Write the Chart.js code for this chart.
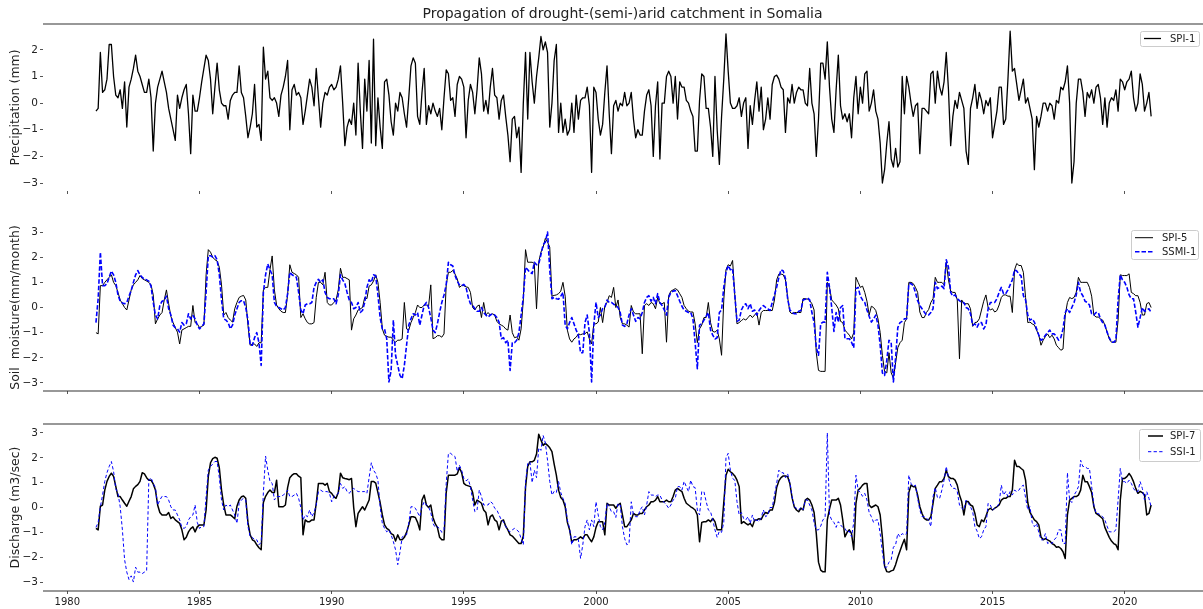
<!DOCTYPE html>
<html><head><meta charset="utf-8">
<script src="https://cdn.jsdelivr.net/npm/chart.js@4.4.0/dist/chart.umd.min.js"></script>
<style>
html,body{margin:0;padding:0;background:#fff;overflow:hidden;width:1203px;height:609px;}
canvas{position:absolute;left:0;}
</style></head><body>
<canvas id="c1" width="1204" height="200" style="top:0px"></canvas>
<canvas id="c2" width="1204" height="200" style="top:200px"></canvas>
<canvas id="c3" width="1204" height="209" style="top:400px"></canvas>
<script>
const chartTitle = 'Propagation of drought-(semi-)arid catchment in Somalia';
const startYear = 1981;            // monthly series, first value Feb 1981
const xTickYears = [1980, 1985, 1990, 1995, 2000, 2005, 2010, 2015, 2020];
const precipTicks = [-3, -2, -1, 0, 1, 2];
const soilTicks = [-3, -2, -1, 0, 1, 2, 3];
const dischargeTicks = [-3, -2, -1, 0, 1, 2, 3];
const yTitles = ['Precipitation (mm)', 'Soil  moisture(mm/month)', 'Discharge (m3/sec)'];
const seriesNames = ['SPI-1', 'SPI-5', 'SSMI-1', 'SPI-7', 'SSI-1'];

const spi1 = [
-0.3,-0.2,1.9,0.4,0.5,0.9,2.2,2.2,1.0,0.3,0.2,
0.5,-0.2,0.8,-0.9,0.6,0.9,1.3,1.8,1.2,1.0,0.7,0.4,
0.4,0.9,0.2,-1.8,0.0,0.6,0.9,1.2,0.8,0.4,-0.2,-0.6,
-1.0,-1.4,0.3,-0.2,0.2,0.5,0.7,-0.4,-1.9,0.3,-0.3,-0.3,
0.2,0.8,1.3,1.8,1.6,0.9,-0.4,0.6,1.5,0.5,0.0,-0.1,
-0.1,-0.6,0.1,0.3,0.4,0.4,1.4,0.4,0.2,-0.5,-1.3,-0.9,
-0.4,0.7,-0.9,-0.8,-1.4,2.1,0.9,1.2,0.2,0.1,0.2,0.0,
-0.5,0.3,0.6,1.0,1.6,-1.0,0.5,0.7,0.3,0.4,0.2,-0.8,
-0.3,0.3,0.9,0.6,-0.1,1.3,0.2,-0.9,0.0,0.4,0.3,0.6,
0.7,0.5,0.6,0.9,1.4,0.0,-1.6,-0.9,-0.6,-0.8,0.0,-1.2,
1.5,-0.3,-1.7,0.9,-0.3,1.6,-1.5,2.4,-1.6,0.2,-0.9,-1.7,
0.8,0.9,0.3,-0.7,-1.2,0.0,-0.3,0.4,0.2,-0.4,-0.9,0.2,
1.4,1.7,1.5,-0.5,-0.8,0.4,1.3,-0.8,-0.1,-0.4,0.0,-0.3,
-0.5,-0.2,-1.0,0.2,1.25,1.1,0.1,0.2,-0.5,0.7,1.0,0.9,
0.6,-1.3,0.1,0.7,0.4,-0.4,0.5,1.7,1.1,-0.3,0.1,-0.4,
0.6,1.3,0.3,0.2,-0.6,0.1,0.3,-0.5,-1.2,-2.2,-0.6,-0.5,
-1.3,-0.9,-2.6,0.0,1.9,-0.6,1.9,0.8,0.0,1.0,1.7,2.5,
2.0,2.3,1.9,-0.9,0.0,1.6,2.2,-1.1,0.0,-1.1,-0.6,-1.2,
-1.0,0.0,-1.1,0.3,-0.6,0.1,0.2,0.2,0.6,-0.1,-2.6,0.6,
0.4,-0.6,-1.2,-0.8,0.4,1.4,-0.4,-1.9,-0.1,0.1,-0.3,0.0,
-0.1,0.4,-0.1,0.0,0.4,-0.6,-1.3,-1.0,-1.2,-1.2,-0.3,0.3,
0.5,-0.1,-2.0,-0.1,0.8,-2.1,0.0,0.0,1.0,1.2,1.0,0.0,
1.0,-0.6,0.8,0.6,0.6,0.1,0.0,-0.3,-0.5,-1.8,-1.8,0.1,
1.1,1.0,-0.2,-0.2,-0.9,-2.0,1.0,-1.0,-2.3,-0.5,0.9,2.6,
1.2,0.0,-0.2,-0.2,-0.1,0.2,-0.5,0.0,0.2,-1.7,-0.1,-0.8,
0.1,0.8,-0.3,0.6,-1.0,-0.6,0.2,-0.6,0.7,1.0,1.05,0.9,
0.6,0.5,-1.1,0.2,0.0,0.7,0.0,0.4,0.6,0.5,0.5,0.0,
-0.1,1.3,0.0,-0.4,-2.0,-0.6,1.5,1.5,0.9,2.3,0.6,-0.6,
-1.1,0.5,1.8,-0.1,-0.6,-0.4,-0.7,-0.4,-1.3,0.2,1.0,-0.4,
0.6,0.0,1.1,1.2,-0.3,0.0,0.5,-0.3,-0.6,-1.5,-3.0,-2.5,
-1.5,-0.7,-2.1,-2.4,-1.7,-2.4,-2.2,1.0,-0.4,1.0,0.6,0.0,
-0.5,-0.1,0.0,-1.9,-0.2,-0.2,-0.3,-0.4,1.1,1.2,0.0,1.2,
0.6,0.3,0.8,1.9,0.5,-1.6,-0.5,0.1,-0.2,0.4,0.1,-0.2,
-1.8,-2.3,-0.2,0.2,0.7,-0.2,0.4,0.1,-0.4,0.1,-0.1,0.2,
-1.3,-0.8,-0.3,0.6,0.6,-0.8,-0.6,0.9,2.7,1.2,1.3,0.7,
0.1,0.5,0.9,0.0,0.2,-0.2,-0.6,-2.5,-0.5,-0.9,-0.5,0.0,
0.0,-0.3,0.0,-0.1,-0.6,0.1,0.0,0.6,0.5,0.8,1.4,0.0,
-3.0,-2.2,0.0,0.9,0.9,0.4,-0.5,0.4,0.2,0.5,0.0,0.6,
0.7,0.2,-0.8,0.2,-0.9,0.0,0.2,0.1,0.5,-0.3,0.9,0.8,
0.5,0.8,0.9,1.2,0.2,-0.3,0.0,1.1,0.7,-0.3,0.0,0.4,
-0.5];

const spi5 = [
-1.0,-1.05,0.87,0.87,1.0,1.1,1.2,1.3,1.0,0.87,0.6,
0.3,0.15,0.0,-0.1,0.3,0.7,0.9,1.0,1.1,1.27,1.15,1.1,
1.05,1.0,0.9,0.5,-0.65,-0.45,-0.3,-0.2,0.3,0.7,0.15,-0.35,
-0.6,-0.8,-0.98,-1.45,-0.9,-0.85,-0.8,-0.75,-0.75,0.08,-0.6,-0.65,
-0.8,-0.75,-0.7,1.3,2.3,2.2,2.0,1.9,1.85,1.6,0.9,-0.3,
-0.2,-0.4,-0.5,-0.58,-0.05,0.2,0.4,0.45,0.48,0.3,-0.7,-1.5,
-1.45,-1.45,-1.55,-1.4,-1.4,0.7,0.8,0.8,1.5,2.05,0.7,0.1,
-0.05,-0.15,-0.2,-0.2,0.5,1.7,1.4,1.35,1.3,1.2,-0.4,-0.25,
-0.45,-0.6,-0.65,-0.65,-0.6,0.4,1.0,1.0,0.9,1.4,0.2,0.1,
0.1,0.2,0.3,0.7,1.56,1.2,1.2,1.15,1.1,-0.9,-0.45,-0.3,
-0.1,-0.05,0.0,0.4,0.35,0.85,0.9,1.05,1.3,1.0,0.2,-0.85,
-1.1,-1.15,-1.18,-1.18,-1.3,-1.38,-1.3,-1.3,-1.25,0.2,-0.85,-0.9,
-0.6,-0.4,-0.2,0.1,0.0,0.0,0.1,0.1,0.05,0.9,-1.24,-1.2,
-1.12,-1.12,-1.18,-1.05,0.9,1.4,1.4,1.47,1.33,1.14,0.8,0.87,
0.87,0.82,0.8,0.6,0.0,-0.1,0.05,0.1,-0.4,0.2,-0.3,-0.2,
-0.3,-0.25,-0.3,-0.55,-0.65,-0.7,-0.75,-0.85,-0.9,-0.3,-1.0,-1.2,
-1.17,-1.3,-0.85,0.3,2.3,1.8,1.8,1.8,1.75,-0.05,1.8,2.2,
2.4,2.75,2.6,2.4,0.45,0.48,0.5,0.55,0.65,1.0,0.45,-0.9,
-1.25,-1.38,-1.25,-1.18,-1.05,-1.08,-1.05,-1.04,-0.97,-1.25,-1.45,-0.65,
-0.65,-0.58,0.0,-0.6,0.05,0.2,0.47,0.4,0.8,0.0,0.3,-0.4,
-0.65,-0.65,-0.7,-0.78,0.08,-0.18,-0.25,-0.25,-0.25,-1.84,0.08,0.15,
0.08,0.2,0.15,-0.05,0.4,0.15,0.15,0.2,-1.38,0.47,0.65,0.7,
0.75,0.7,0.55,0.4,0.08,-0.05,-0.15,-0.18,-0.18,-0.65,-1.4,-0.85,
-0.7,-0.4,-0.4,0.2,-0.6,-0.95,-0.98,-0.9,-1.25,-1.9,0.3,1.5,
1.7,1.65,1.87,0.5,-0.65,-0.6,-0.52,-0.45,-0.5,-0.4,-0.3,-0.4,
-0.3,-0.2,-0.7,-0.2,-0.12,-0.12,-0.12,-0.12,-0.12,0.3,1.1,1.33,
1.33,1.3,1.1,0.4,-0.18,-0.25,-0.2,-0.2,-0.2,-0.2,0.35,0.35,
0.33,0.28,0.15,-0.1,-1.8,-2.5,-2.54,-2.54,-2.54,1.0,0.8,0.3,
0.2,0.1,-0.05,-0.55,-0.6,-0.9,-1.0,-1.1,-1.25,-1.0,1.2,1.0,
0.8,0.85,0.6,0.25,-0.3,0.05,0.0,-0.12,-0.45,-1.0,-1.9,-2.55,
-2.6,-1.8,-2.6,-2.8,-2.2,-1.6,-1.4,-1.3,-0.6,-0.45,1.0,1.0,
0.95,0.8,0.6,-0.18,-0.4,-0.4,-0.2,-0.08,0.2,0.35,1.2,1.0,
1.0,1.0,0.9,1.8,1.1,0.65,0.6,0.6,0.3,-2.04,0.3,0.15,
0.15,0.15,-0.05,-0.75,-0.6,-0.58,-0.45,-0.1,0.25,0.5,0.0,-0.1,
-0.05,-0.18,-0.12,0.1,0.4,0.5,0.5,0.45,0.45,-0.2,1.5,1.75,
1.67,1.67,1.4,0.4,-0.6,-0.58,-0.65,-0.7,-0.9,-1.1,-1.5,-1.3,
-1.15,-1.05,-1.2,-1.1,-1.25,-1.5,-1.6,-1.7,-1.65,-0.3,0.2,0.4,
0.35,0.4,0.6,1.2,1.0,1.0,1.0,1.0,0.8,0.45,-0.3,-0.38,
-0.38,-0.45,-0.5,-0.7,-0.98,-1.25,-1.38,-1.38,-1.38,-0.5,1.3,1.27,
1.27,1.27,1.34,0.6,0.55,0.47,0.47,0.2,-0.3,-0.3,0.15,0.2,
0.0];

const ssmi1 = [
-0.6,0.35,2.2,0.87,0.87,0.95,1.2,1.45,1.3,1.0,0.5,
0.25,0.18,0.15,0.2,0.45,0.68,1.0,1.3,1.47,1.3,1.2,1.12,
1.1,1.05,0.85,0.2,-0.3,-0.45,0.08,0.25,0.28,0.45,-0.05,-0.3,
-0.7,-0.8,-0.85,-0.98,-0.6,-0.7,-0.65,-0.25,-0.45,-0.32,-0.45,-0.7,
-0.85,-0.75,-0.65,0.6,2.06,2.06,2.0,2.06,1.9,1.3,0.3,-0.45,
-0.5,-0.6,-0.85,-0.7,-0.3,-0.05,0.2,0.27,0.27,0.0,-0.5,-1.5,
-1.5,-1.2,-1.0,-1.4,-2.3,0.6,1.3,1.73,1.5,1.3,0.2,0.05,
0.0,-0.05,-0.1,0.0,0.55,1.4,1.3,1.25,1.2,0.6,-0.1,-0.25,
0.1,0.15,0.15,0.2,0.8,1.0,1.12,1.0,1.1,0.6,0.4,0.35,
0.35,0.35,0.15,0.5,1.3,1.1,0.95,0.6,0.3,0.2,-0.05,0.0,
0.2,-0.2,-0.12,0.2,0.8,1.1,1.0,1.3,1.25,0.5,-0.4,-0.85,
-0.85,-1.25,-2.96,-2.5,-0.5,-1.9,-2.3,-2.7,-2.83,-2.3,-1.5,-0.7,
-0.45,-0.25,-0.3,-0.2,-0.7,-0.3,0.08,0.2,0.0,-0.4,-0.9,-1.0,
-0.65,-0.2,0.2,0.5,0.9,1.8,1.7,1.65,1.27,1.05,0.9,0.87,
0.92,0.8,0.4,0.15,0.08,-0.05,-0.15,-0.15,0.0,-0.2,-0.3,-0.38,
-0.3,-0.25,-0.3,-0.4,-0.58,-1.24,-1.2,-1.4,-1.3,-2.5,-1.4,-1.4,
-1.3,-1.0,-0.3,0.4,1.6,1.5,1.4,1.35,1.8,1.7,1.73,2.1,
2.5,2.6,3.0,1.5,0.35,0.4,0.35,0.33,0.45,0.6,-0.7,-0.85,
-0.6,-0.4,-0.65,-0.9,-1.1,-1.8,-1.8,-0.6,-0.3,-1.0,-2.96,-0.7,
0.2,-0.4,-0.3,-0.05,0.0,0.3,0.2,0.2,0.13,0.08,0.0,-0.2,
-0.7,-0.75,-0.65,-0.3,-0.05,-0.3,-0.55,-0.4,-0.45,-0.2,0.2,0.4,
0.47,0.25,0.4,0.15,0.55,0.2,0.08,-0.1,-0.3,0.4,0.6,0.65,
0.67,0.47,0.25,0.05,-0.1,-0.15,-0.2,-0.2,-0.45,-1.4,-2.43,-0.7,
-0.65,-0.5,-0.35,-0.2,-0.9,-1.1,-1.25,-1.2,-0.2,-0.1,0.8,1.4,
1.67,1.5,1.55,0.5,-0.55,-0.5,-0.1,0.08,0.15,-0.05,0.15,-0.15,
-0.1,-0.3,-0.12,0.0,0.08,0.0,-0.05,-0.12,0.2,0.5,0.8,1.2,
1.5,1.45,1.15,0.35,-0.1,-0.18,-0.25,-0.25,-0.15,-0.12,0.3,0.33,
0.38,0.3,-0.2,-0.6,-1.6,-1.9,-0.65,-0.58,-0.58,1.4,0.8,0.0,
-0.95,-0.2,-0.58,0.0,0.08,-1.24,-1.24,-1.24,-1.38,-1.6,0.75,0.8,
0.45,0.3,0.2,-0.1,-0.35,-0.58,-0.45,-0.3,-0.7,-1.5,-2.6,-2.7,
-2.1,-1.3,-1.4,-2.96,-2.0,-0.8,-0.6,-0.55,-0.45,-0.45,0.95,0.95,
0.87,0.6,0.27,0.08,-0.05,-0.18,-0.3,-0.3,-0.2,-0.05,1.0,0.75,
0.8,0.85,0.75,1.9,1.6,0.6,0.45,0.5,0.35,0.27,0.2,0.2,
0.0,-0.05,-0.25,-0.7,-0.65,-0.78,-0.6,-0.6,-0.85,-0.7,-0.05,0.2,
0.2,0.2,0.35,0.6,0.8,0.55,0.55,0.7,0.9,1.1,1.5,1.45,
1.33,1.25,0.47,0.3,-0.3,-0.5,-0.45,-0.58,-0.85,-1.1,-1.3,-1.25,
-1.1,-1.0,-0.9,-1.05,-1.05,-1.15,-1.3,-1.2,-0.85,-0.2,-0.05,-0.2,
0.0,0.2,0.5,1.0,0.6,0.47,0.25,0.2,0.1,-0.25,-0.3,-0.2,
-0.2,-0.45,-0.6,-0.7,-0.98,-1.2,-1.38,-1.38,-1.3,0.3,1.3,1.1,
1.0,0.8,0.5,0.35,0.35,-0.18,-0.78,-0.4,0.0,-0.15,-0.1,-0.05,
-0.2];

const spi7 = [
-0.84,-0.9,0.05,0.1,0.7,1.05,1.25,1.38,1.25,0.85,0.44,
0.44,0.3,0.17,0.05,0.25,0.44,0.75,0.85,0.92,1.05,1.4,1.35,
1.2,1.1,1.1,0.95,0.7,0.1,-0.2,-0.3,-0.3,-0.3,-0.2,-0.44,
-0.38,-0.5,-0.57,-0.64,-0.9,-1.3,-1.2,-0.98,-0.85,-0.78,-0.98,-0.78,
-0.7,-0.7,-0.7,-0.1,1.25,1.8,1.97,2.02,1.98,1.6,0.7,0.1,
-0.3,-0.3,-0.3,-0.37,-0.45,0.05,0.3,0.43,0.46,0.37,-0.6,-1.1,
-1.3,-1.35,-1.5,-1.62,-1.7,0.2,0.45,0.6,0.7,0.6,0.6,1.1,
0.03,0.03,0.03,0.1,0.8,1.2,1.3,1.36,1.36,1.26,1.2,-1.1,
-0.5,-0.57,-0.57,-0.5,-0.5,0.17,0.97,0.97,0.97,0.9,0.97,0.64,
0.57,0.44,0.37,0.6,1.38,1.2,1.17,1.15,1.12,1.17,0.0,-0.77,
-0.24,-0.1,0.03,-0.1,0.1,0.3,1.05,1.05,0.98,0.6,0.2,-0.3,
-0.7,-0.84,-0.9,-1.05,-1.1,-1.35,-1.1,-1.3,-1.3,-1.2,-1.0,-0.7,
-0.37,-0.37,-0.4,-0.6,-0.9,0.3,0.5,0.1,0.0,0.1,-0.4,-0.65,
-0.8,-1.2,-1.3,-1.3,0.6,1.3,1.3,1.3,1.3,1.35,1.6,1.4,
0.97,0.9,0.87,0.84,0.6,0.1,0.3,0.24,0.17,-0.1,-0.2,-0.7,
-0.37,-0.3,-0.5,-0.57,-0.9,-0.55,-0.5,-0.75,-0.9,-1.1,-1.15,-1.25,
-1.35,-1.45,-1.45,-1.15,0.8,1.65,1.84,1.84,1.9,2.15,2.95,2.72,
2.5,2.58,2.5,2.4,2.25,1.75,1.3,0.7,0.4,0.3,0.03,-0.6,
-0.9,-1.4,-1.3,-1.3,-1.25,-1.18,-1.25,-1.1,-1.1,-1.25,-1.38,-1.18,
-0.8,-0.57,-0.57,-0.57,-1.1,0.17,0.1,0.1,0.1,-0.03,0.1,0.17,
-0.3,-0.77,-0.77,-0.64,-0.5,-0.24,-0.3,-0.3,-0.24,-0.24,-0.1,0.03,
0.1,0.23,0.23,0.3,0.44,0.23,0.23,0.23,0.3,0.23,0.23,0.44,
0.7,0.77,0.7,0.64,0.37,0.17,0.1,0.03,-0.03,-0.1,-0.3,-1.38,
-0.6,-0.57,-0.57,-0.5,-0.57,-0.44,-0.57,-0.9,-0.9,-0.9,0.2,1.3,
1.54,1.44,1.37,1.27,1.1,0.84,-0.64,-0.57,-0.64,-0.7,-0.64,-0.77,
-0.5,-0.5,-0.45,-0.48,-0.3,-0.2,-0.24,-0.1,-0.1,0.2,0.8,1.07,
1.2,1.27,1.27,1.24,0.97,0.4,0.03,-0.1,-0.17,-0.03,-0.1,0.3,
0.37,0.3,0.1,-0.2,-1.05,-2.2,-2.52,-2.59,-2.59,-0.5,-0.05,0.3,
0.3,0.3,0.37,0.1,-0.5,-1.18,-1.0,-0.9,-1.05,-1.7,0.17,0.7,
0.78,0.9,0.97,0.97,0.1,0.0,0.05,0.1,0.03,-0.3,-1.2,-2.35,
-2.58,-2.6,-2.55,-2.52,-2.3,-2.0,-1.75,-1.5,-1.28,-1.7,0.6,0.9,
0.84,0.84,0.5,0.03,-0.24,-0.44,-0.5,-0.5,-0.37,0.17,0.77,0.9,
1.04,1.04,1.17,1.5,1.24,1.17,1.17,1.1,0.9,0.5,0.24,-0.3,
0.24,0.24,0.1,0.05,-0.24,-0.7,-0.77,-0.5,-0.57,-0.35,-0.1,-0.03,
-0.1,-0.03,0.03,0.1,0.3,0.37,0.37,0.44,0.44,0.7,1.9,1.65,
1.65,1.57,1.5,1.1,0.2,-0.2,-0.35,-0.5,-0.57,-0.7,-1.18,-1.3,
-1.25,-1.3,-1.35,-1.45,-1.5,-1.6,-1.58,-1.65,-1.78,-2.05,-0.3,0.3,
0.37,0.44,0.44,0.5,0.7,1.3,1.04,1.04,0.84,0.6,0.03,-0.24,
-0.3,-0.37,-0.45,-0.8,-1.0,-1.2,-1.35,-1.45,-1.5,-1.7,0.3,1.17,
1.17,1.24,1.37,1.24,1.04,0.77,0.57,0.65,0.6,0.5,-0.3,-0.24,
0.1];

const ssi1 = [
-0.8,-0.6,0.03,0.5,1.05,1.4,1.65,1.85,1.45,0.75,0.57,
0.03,-0.9,-2.1,-2.6,-2.9,-2.75,-3.0,-2.4,-2.6,-2.6,-2.66,-2.6,
-2.55,1.1,1.2,0.97,0.8,0.1,0.3,0.45,0.44,0.44,0.3,0.03,
-0.1,-0.1,-0.3,-0.5,-0.8,-0.84,-0.77,-0.5,-0.37,-0.3,0.1,-0.6,
-0.84,-0.77,-0.77,0.44,1.5,1.65,1.75,1.85,1.85,1.2,0.3,-0.1,
0.1,0.03,0.1,-0.1,-0.3,-0.64,0.17,0.3,0.37,0.3,-0.77,-1.17,
-1.2,-1.3,-1.3,-1.5,-1.4,0.6,2.07,1.5,1.05,0.97,0.3,0.44,
0.44,0.44,0.5,0.57,0.7,0.44,0.44,0.5,0.57,0.37,0.0,-0.5,
-0.3,-0.37,-0.1,-0.37,-0.2,0.1,0.64,0.7,0.64,0.64,0.64,0.57,
0.23,0.44,0.5,0.57,0.97,0.77,0.84,0.64,0.57,0.7,0.77,0.7,
0.64,0.64,0.64,0.64,0.57,1.2,1.8,1.5,1.37,1.1,0.03,-0.64,
-0.84,-0.98,-0.9,-1.1,-1.37,-1.7,-2.3,-1.8,-1.2,-1.1,-1.1,-0.64,
0.03,0.03,-0.03,-0.2,-0.37,0.03,0.23,0.1,0.03,-0.2,-0.64,-0.8,
-0.77,-0.85,-1.0,-0.9,0.97,2.18,2.18,2.1,2.05,1.45,1.7,1.5,
1.17,1.07,1.14,0.84,0.3,-0.17,-0.1,0.7,0.44,0.1,0.1,0.1,
0.24,0.17,-0.03,-0.1,-0.3,-0.5,-0.57,-0.77,-0.9,-0.98,-0.9,-0.84,
-0.9,-0.98,-1.25,-1.5,1.0,1.77,1.84,1.0,1.5,1.2,2.4,2.3,
2.9,2.6,1.9,1.05,0.5,0.65,0.6,1.05,0.6,0.37,0.17,-0.5,
-0.84,-1.5,-1.18,-1.18,-1.3,-2.05,-1.5,-0.77,-0.5,-0.9,-0.5,-0.77,
0.23,-0.3,-0.77,-0.9,-0.6,0.17,0.03,-0.17,-0.17,-0.4,0.17,0.1,
-0.77,-1.25,-1.5,-1.45,0.23,-0.3,-0.37,-0.37,-0.1,0.03,-0.3,0.1,
0.64,0.5,0.5,0.44,0.5,0.5,0.3,0.2,0.1,-0.03,0.1,0.3,
0.37,0.84,0.84,0.7,1.05,0.84,0.64,1.1,0.84,0.8,-0.1,-0.3,
0.64,0.64,0.24,-0.1,-0.17,-0.5,-0.9,-1.2,-0.95,-1.0,-0.6,2.0,
2.18,1.5,1.17,1.1,0.23,-0.3,-0.2,-0.44,-0.5,-0.37,-0.64,-0.3,
-0.57,-0.5,-0.57,-0.4,-0.1,-0.37,-0.3,0.0,0.0,0.5,0.97,1.5,
1.4,1.4,1.2,1.35,1.0,0.44,0.03,-0.03,-0.1,0.0,-0.1,0.3,
0.3,0.1,-0.1,-0.6,-0.9,-0.9,-0.75,-0.5,-0.4,3.0,-0.3,-0.5,
-0.6,-0.8,-0.57,-0.7,-0.8,-0.84,-1.0,-0.95,-1.18,-0.6,1.3,0.7,
0.6,0.45,0.57,0.3,-0.2,-0.37,-0.6,-0.5,-0.5,-1.05,-1.8,-2.4,
-2.4,-2.2,-2.1,-1.6,-1.5,-1.05,-1.18,-1.05,-1.1,-1.05,1.3,0.97,
0.84,0.9,0.37,-0.1,-0.37,-0.37,-0.44,-0.5,-0.77,0.44,0.8,0.4,
0.37,0.7,1.1,1.65,1.2,0.9,0.77,0.77,0.64,0.1,-0.03,-0.1,
0.3,0.17,0.03,-0.17,-0.77,-0.95,-1.25,-1.18,-0.9,-0.77,0.17,0.1,
-0.1,-0.03,0.03,0.17,0.9,0.5,0.64,0.44,0.64,0.5,0.7,0.64,
0.7,0.84,0.9,0.4,-0.1,0.03,-0.6,-0.77,-0.64,-1.0,-1.3,-1.3,
-1.05,-1.45,-1.4,-1.45,-1.3,-1.2,-0.9,-0.9,-1.45,-1.45,1.4,0.3,
0.2,0.5,0.64,0.84,1.9,1.65,1.65,1.57,1.57,0.84,0.1,-0.24,
-0.24,-0.3,-0.37,-0.5,-0.75,-0.98,-0.98,-0.98,-0.9,0.3,1.57,1.04,
1.04,0.97,1.1,0.97,0.77,0.64,0.64,1.04,0.77,0.3,0.64,0.37,
0.03];

// decimal-year position of each monthly value
const months = spi1.map((_, i) => startYear + (i + 1) / 12);
const toXY = arr => arr.map((v, i) => ({ x: months[i], y: v }));

const FONT = 'DejaVu Sans';
const TXT = '#222';
const fmtNum = v => (v < 0 ? '\u2212' + Math.abs(v) : String(v));

function panelPlugin(cfg) {
  return {
    id: 'panelDeco',
    afterDraw(chart) {
      const ctx = chart.ctx, a = chart.chartArea;
      ctx.save();
      ctx.strokeStyle = '#333';
      ctx.lineWidth = 1.2;
      cfg.spines.forEach(s => {
        const y = s === 'top' ? a.top : a.bottom;
        ctx.beginPath(); ctx.moveTo(a.left, y); ctx.lineTo(a.right, y); ctx.stroke();
      });
      if (cfg.title) {
        ctx.fillStyle = TXT;
        ctx.font = '14px "' + FONT + '"';
        ctx.textAlign = 'center'; ctx.textBaseline = 'middle';
        ctx.fillText(cfg.title, (a.left + a.right) / 2 - 1, 14);
      }
      const L = cfg.legend;
      ctx.fillStyle = 'rgba(255,255,255,0.85)';
      ctx.strokeStyle = '#cccccc';
      ctx.lineWidth = 1;
      ctx.beginPath();
      if (ctx.roundRect) ctx.roundRect(L.x + 0.5, L.y + 0.5, L.w, L.h, 2); else ctx.rect(L.x + 0.5, L.y + 0.5, L.w, L.h);
      ctx.fill(); ctx.stroke();
      ctx.font = '10px "' + FONT + '"';
      ctx.textAlign = 'left'; ctx.textBaseline = 'middle';
      L.items.forEach(it => {
        const ds = chart.data.datasets[it.ds];
        ctx.strokeStyle = ds.borderColor;
        ctx.lineWidth = ds.borderWidth;
        ctx.setLineDash(ds.borderDash || []);
        ctx.beginPath(); ctx.moveTo(L.lx1, it.y); ctx.lineTo(L.lx2, it.y); ctx.stroke();
        ctx.setLineDash([]);
        ctx.fillStyle = TXT;
        ctx.fillText(ds.label, L.tx, it.y + 0.5);
      });
      ctx.restore();
    }
  };
}

function makePanel(id, p) {
  const datasets = p.series.map(s => ({
    label: s.label, data: toXY(s.data), borderColor: s.color, borderWidth: s.width,
    borderDash: s.dash || [], pointRadius: 0, tension: 0, fill: false,
    borderJoinStyle: 'round', order: s.order
  }));
  return new Chart(document.getElementById(id), {
    type: 'line',
    data: { datasets },
    options: {
      responsive: false, animation: false, devicePixelRatio: 1,
      layout: { padding: { top: p.padTop, left: 0, right: 0, bottom: 0 } },
      plugins: { legend: { display: false }, tooltip: { enabled: false }, title: { display: false } },
      scales: {
        x: {
          type: 'linear', min: 1979.08, max: 2023.0,
          afterBuildTicks: s => { s.ticks = xTickYears.map(v => ({ value: v })); },
          afterFit: s => { s.height = p.xHeight; },
          ticks: { display: p.xLabels, autoSkip: false, maxRotation: 0, padding: 2,
                   callback: v => String(v), font: { family: FONT, size: 10 }, color: TXT },
          grid: { display: true, drawOnChartArea: false, drawTicks: true, tickLength: 3, color: '#555' },
          border: { display: false }
        },
        y: {
          type: 'linear', min: p.yMin, max: p.yMax,
          afterBuildTicks: s => { s.ticks = p.yTicks.map(v => ({ value: v })); },
          afterFit: s => { s.width = 43; },
          ticks: { padding: 2, callback: v => fmtNum(v), font: { family: FONT, size: 10.5 }, color: TXT },
          grid: { display: true, drawOnChartArea: false, drawTicks: true, tickLength: 3, color: '#555' },
          border: { display: false },
          title: { display: true, text: p.yTitle, color: TXT, font: { family: FONT, size: 12.5 },
                   padding: { top: 8.5, bottom: 0 } }
        }
      }
    },
    plugins: [panelPlugin(p.deco)]
  });
}

makePanel('c1', {
  padTop: 24, xHeight: 9, xLabels: false, yMin: -3.3, yMax: 2.97, yTicks: precipTicks, yTitle: yTitles[0],
  series: [{ label: seriesNames[0], data: spi1, color: '#000000', width: 1.3, order: 0 }],
  deco: { spines: ['top'], title: chartTitle,
          legend: { x: 1140, y: 31, w: 59, h: 15, lx1: 1144, lx2: 1161, tx: 1170, items: [{ ds: 0, y: 38.5 }] } }
});

makePanel('c2', {
  padTop: 24, xHeight: 9, xLabels: false, yMin: -3.32, yMax: 3.32, yTicks: soilTicks, yTitle: yTitles[1],
  series: [
    { label: seriesNames[1], data: spi5, color: '#000000', width: 1.0, order: 1 },
    { label: seriesNames[2], data: ssmi1, color: '#0000ff', width: 1.6, dash: [4.5, 2], order: 0 }
  ],
  deco: { spines: ['bottom'],
          legend: { x: 1131, y: 30, w: 67, h: 29, lx1: 1135, lx2: 1153, tx: 1162,
                    items: [{ ds: 0, y: 37.7 }, { ds: 1, y: 51.7 }] } }
});

makePanel('c3', {
  padTop: 24, xHeight: 18, xLabels: true, yMin: -3.36, yMax: 3.36, yTicks: dischargeTicks, yTitle: yTitles[2],
  series: [
    { label: seriesNames[3], data: spi7, color: '#000000', width: 1.5, order: 1 },
    { label: seriesNames[4], data: ssi1, color: '#0000ff', width: 1.0, dash: [3.3, 2.3], order: 0 }
  ],
  deco: { spines: ['top', 'bottom'],
          legend: { x: 1139, y: 29, w: 61, h: 32, lx1: 1148, lx2: 1163, tx: 1170,
                    items: [{ ds: 0, y: 36 }, { ds: 1, y: 51.7 }] } }
});
</script>
</body></html>
